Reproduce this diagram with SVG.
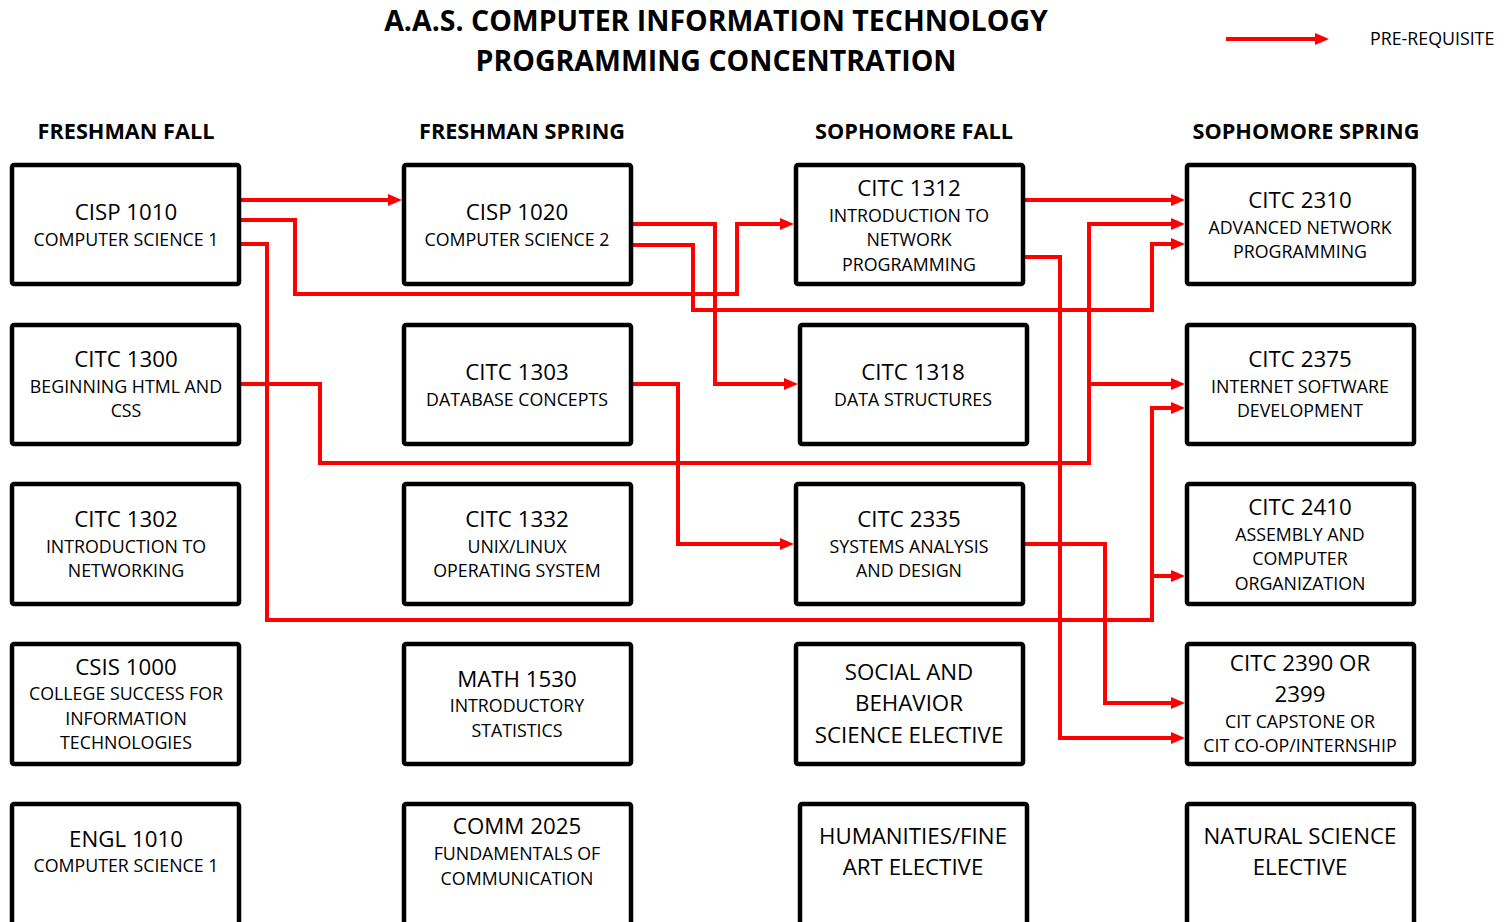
<svg xmlns="http://www.w3.org/2000/svg" width="1509" height="922" viewBox="0 0 1509 922">
<style>
text{font-family:"Open Sans","Liberation Sans",sans-serif;fill:#000;text-anchor:middle}
.t{font-size:28.5px;font-weight:bold}
.h{font-size:21.7px;font-weight:bold}
.c{font-size:22.3px}
.s{font-size:17.8px}
.box{fill:#fff;stroke:#000;stroke-width:4.5}
.cn{fill:none;stroke:#f00;stroke-width:4;stroke-linejoin:miter}
.arr{marker-end:url(#ah)}
</style>
<defs>
<marker id="ah" markerUnits="userSpaceOnUse" markerWidth="14" markerHeight="12" refX="8" refY="6" orient="auto">
<path d="M0,0 L14,6 L0,12 z" fill="#f00"/>
</marker>
</defs>
<rect width="1509" height="922" fill="#fff"/>
<g id="title">
<text class="t" x="716" y="31">A.A.S. COMPUTER INFORMATION TECHNOLOGY</text>
<text class="t" x="716" y="71">PROGRAMMING CONCENTRATION</text>
</g>
<g id="legend">
<path class="cn arr" d="M1226,39 H1323"/>
<text class="s" x="1370" y="45" style="text-anchor:start">PRE-REQUISITE</text>
</g>
<g id="headers">
<text class="h" x="126" y="139">FRESHMAN FALL</text>
<text class="h" x="522" y="139">FRESHMAN SPRING</text>
<text class="h" x="914" y="139">SOPHOMORE FALL</text>
<text class="h" x="1306" y="139">SOPHOMORE SPRING</text>
</g>
<g id="connectors">
<path class="cn arr" d="M241,200 H396"/>
<path class="cn arr" d="M241,220 H295 V294 H737 V224 H788"/>
<path class="cn arr" d="M241,244 H267 V620 H1152 V408 H1179"/>
<path class="cn arr" d="M1152,576 H1179"/>
<path class="cn arr" d="M633,224 H715 V384 H792"/>
<path class="cn arr" d="M633,245 H693 V310 H1152 V244 H1179"/>
<path class="cn arr" d="M241,384 H320 V463 H1089 V224 H1179"/>
<path class="cn arr" d="M1089,384 H1179"/>
<path class="cn arr" d="M633,384 H678 V544 H788"/>
<path class="cn arr" d="M1025,200 H1179"/>
<path class="cn arr" d="M1025,257 H1060 V738 H1179"/>
<path class="cn arr" d="M1025,544 H1105 V703 H1179"/>
</g>
<g id="cisp1010"><rect class="box" x="12" y="165" width="227" height="119" rx="2"/>
<text class="c" x="126" y="220">CISP 1010</text><text class="s" x="126" y="246">COMPUTER SCIENCE 1</text></g>
<g id="citc1300"><rect class="box" x="12" y="325" width="227" height="119" rx="2"/>
<text class="c" x="126" y="367">CITC 1300</text><text class="s" x="126" y="393">BEGINNING HTML AND</text><text class="s" x="126" y="417">CSS</text></g>
<g id="citc1302"><rect class="box" x="12" y="484" width="227" height="120" rx="2"/>
<text class="c" x="126" y="527">CITC 1302</text><text class="s" x="126" y="553">INTRODUCTION TO</text><text class="s" x="126" y="577">NETWORKING</text></g>
<g id="csis1000"><rect class="box" x="12" y="644" width="227" height="120" rx="2"/>
<text class="c" x="126" y="675">CSIS 1000</text><text class="s" x="126" y="700">COLLEGE SUCCESS FOR</text><text class="s" x="126" y="725">INFORMATION</text><text class="s" x="126" y="749">TECHNOLOGIES</text></g>
<g id="engl1010"><rect class="box" x="12" y="804" width="227" height="130" rx="2"/>
<text class="c" x="126" y="847">ENGL 1010</text><text class="s" x="126" y="872">COMPUTER SCIENCE 1</text></g>
<g id="cisp1020"><rect class="box" x="404" y="165" width="227" height="119" rx="2"/>
<text class="c" x="517" y="220">CISP 1020</text><text class="s" x="517" y="246">COMPUTER SCIENCE 2</text></g>
<g id="citc1303"><rect class="box" x="404" y="325" width="227" height="119" rx="2"/>
<text class="c" x="517" y="380">CITC 1303</text><text class="s" x="517" y="406">DATABASE CONCEPTS</text></g>
<g id="citc1332"><rect class="box" x="404" y="484" width="227" height="120" rx="2"/>
<text class="c" x="517" y="527">CITC 1332</text><text class="s" x="517" y="553">UNIX/LINUX</text><text class="s" x="517" y="577">OPERATING SYSTEM</text></g>
<g id="math1530"><rect class="box" x="404" y="644" width="227" height="120" rx="2"/>
<text class="c" x="517" y="687">MATH 1530</text><text class="s" x="517" y="712">INTRODUCTORY</text><text class="s" x="517" y="737">STATISTICS</text></g>
<g id="comm2025"><rect class="box" x="404" y="804" width="227" height="130" rx="2"/>
<text class="c" x="517" y="834">COMM 2025</text><text class="s" x="517" y="860">FUNDAMENTALS OF</text><text class="s" x="517" y="885">COMMUNICATION</text></g>
<g id="citc1312"><rect class="box" x="796" y="165" width="227" height="119" rx="2"/>
<text class="c" x="909" y="196">CITC 1312</text><text class="s" x="909" y="222">INTRODUCTION TO</text><text class="s" x="909" y="246">NETWORK</text><text class="s" x="909" y="271">PROGRAMMING</text></g>
<g id="citc1318"><rect class="box" x="800" y="325" width="227" height="119" rx="2"/>
<text class="c" x="913" y="380">CITC 1318</text><text class="s" x="913" y="406">DATA STRUCTURES</text></g>
<g id="citc2335"><rect class="box" x="796" y="484" width="227" height="120" rx="2"/>
<text class="c" x="909" y="527">CITC 2335</text><text class="s" x="909" y="553">SYSTEMS ANALYSIS</text><text class="s" x="909" y="577">AND DESIGN</text></g>
<g id="social"><rect class="box" x="796" y="644" width="227" height="120" rx="2"/>
<text class="c" x="909" y="680">SOCIAL AND</text><text class="c" x="909" y="711">BEHAVIOR</text><text class="c" x="909" y="743">SCIENCE ELECTIVE</text></g>
<g id="humanities"><rect class="box" x="800" y="804" width="227" height="130" rx="2"/>
<text class="c" x="913" y="844">HUMANITIES/FINE</text><text class="c" x="913" y="875">ART ELECTIVE</text></g>
<g id="citc2310"><rect class="box" x="1187" y="165" width="227" height="119" rx="2"/>
<text class="c" x="1300" y="208">CITC 2310</text><text class="s" x="1300" y="234">ADVANCED NETWORK</text><text class="s" x="1300" y="258">PROGRAMMING</text></g>
<g id="citc2375"><rect class="box" x="1187" y="325" width="227" height="119" rx="2"/>
<text class="c" x="1300" y="367">CITC 2375</text><text class="s" x="1300" y="393">INTERNET SOFTWARE</text><text class="s" x="1300" y="417">DEVELOPMENT</text></g>
<g id="citc2410"><rect class="box" x="1187" y="484" width="227" height="120" rx="2"/>
<text class="c" x="1300" y="515">CITC 2410</text><text class="s" x="1300" y="541">ASSEMBLY AND</text><text class="s" x="1300" y="565">COMPUTER</text><text class="s" x="1300" y="590">ORGANIZATION</text></g>
<g id="citc2390"><rect class="box" x="1187" y="644" width="227" height="120" rx="2"/>
<text class="c" x="1300" y="671">CITC 2390 OR</text><text class="c" x="1300" y="702">2399</text><text class="s" x="1300" y="728">CIT CAPSTONE OR</text><text class="s" x="1300" y="752">CIT CO-OP/INTERNSHIP</text></g>
<g id="natural"><rect class="box" x="1187" y="804" width="227" height="130" rx="2"/>
<text class="c" x="1300" y="844">NATURAL SCIENCE</text><text class="c" x="1300" y="875">ELECTIVE</text></g>
</svg>
